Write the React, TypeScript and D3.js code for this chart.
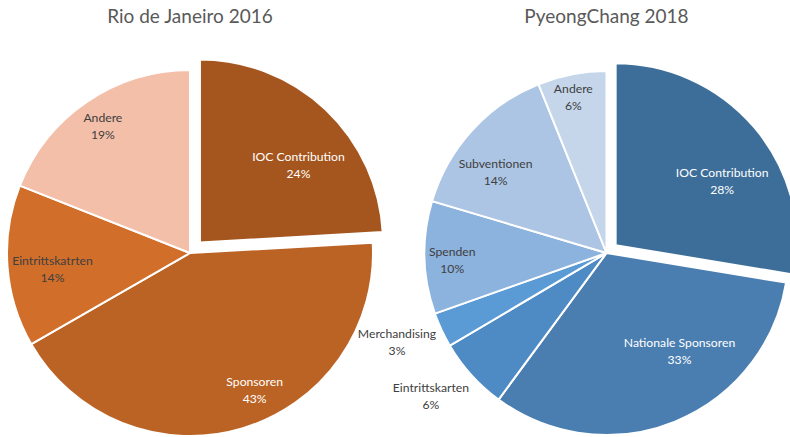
import { useEffect, useRef } from "react";
import * as d3 from "d3";

// Rio de Janeiro 2016 (shares in %)
const rioCategories = ["IOC Contribution", "Sponsoren", "Eintrittskatrten", "Andere"];
const rioValues = [24.1, 42.6, 14.3, 19];

// PyeongChang 2018 (shares in %)
const pcCategories = [
  "IOC Contribution",
  "Nationale Sponsoren",
  "Eintrittskarten",
  "Merchandising",
  "Spenden",
  "Subventionen",
  "Andere",
];
const pcValues = [27.6, 32.5, 6.4, 3.1, 10, 14.3, 6.1];

const rioColors = ["#A5561E", "#BB6324", "#D06E2A", "#F4BFA9"];
const pcColors = ["#3D6E99", "#4A7EB1", "#4E8AC3", "#5A9AD5", "#8CB2DE", "#ADC5E4", "#C5D6EB"];

const W = 790;
const H = 437;
const FONT = "Lato, 'Open Sans', sans-serif";

function drawPie(g, opts) {
  const { title, cats, vals, colors, cx, cy, r, explode, labelR, labelShift, lightText } = opts;
  const pie = d3.pie().sort(null).value((d) => d)(vals);
  const arc = d3.arc().innerRadius(0).outerRadius(r);
  const total = d3.sum(vals);

  g.append("text")
    .attr("x", cx)
    .attr("y", 23)
    .attr("text-anchor", "middle")
    .attr("fill", "#595959")
    .style("font-family", FONT)
    .style("font-size", "19px")
    .text(title);

  pie.forEach((p, i) => {
    const mid = (p.startAngle + p.endAngle) / 2;
    const off = i === 0 ? explode : 0;
    const ox = cx + off * Math.sin(mid);
    const oy = cy - off * Math.cos(mid);

    g.append("path")
      .attr("d", arc(p))
      .attr("transform", `translate(${ox},${oy})`)
      .attr("fill", colors[i])
      .attr("stroke", "#fff")
      .attr("stroke-width", 2)
      .attr("stroke-linejoin", "round");

    // label position (Excel best-fit, approximated)
    const a = mid + (labelShift[i] * Math.PI) / 180;
    const lx = ox + labelR[i] * r * Math.sin(a);
    const ly = oy - labelR[i] * r * Math.cos(a);
    const fill = lightText[i] ? "#fff" : "#404040";
    const pct = Math.round((vals[i] / total) * 100) + "%";

    const txt = g.append("text")
      .attr("text-anchor", "middle")
      .attr("fill", fill)
      .style("font-family", FONT)
      .style("font-size", "12.2px");
    txt.append("tspan").attr("x", lx).attr("y", ly - 8.5).text(cats[i]);
    txt.append("tspan").attr("x", lx).attr("y", ly + 8.5).text(pct);
  });
}

export default function App() {
  const ref = useRef(null);

  useEffect(() => {
    const svg = d3.select(ref.current);
    svg.selectAll("*").remove(); // Clear before redraw

    svg.append("rect").attr("width", W).attr("height", H).attr("fill", "#fff");

    drawPie(svg.append("g"), {
      title: "Rio de Janeiro 2016",
      cats: rioCategories,
      vals: rioValues,
      colors: rioColors,
      cx: 190,
      cy: 253,
      r: 183,
      explode: 14.5,
      labelR: [0.67, 0.85, 0.76, 0.82],
      labelShift: [10.1, -8.0, -4.4, -1.3],
      lightText: [true, true, false, false],
    });

    drawPie(svg.append("g"), {
      title: "PyeongChang 2018",
      cats: pcCategories,
      vals: pcValues,
      colors: pcColors,
      cx: 606.5,
      cy: 253,
      r: 182,
      explode: 12,
      labelR: [0.67, 0.69, 1.26, 1.26, 0.85, 0.74, 0.85],
      labelShift: [11.2, -13.4, 2.1, 1.0, -3.0, -7.7, -1.4],
      lightText: [true, true, false, false, false, false, false],
    });
  }, []);

  return (
    <svg
      ref={ref}
      width={W}
      height={H}
      style={{ position: "absolute", left: 0, top: 0, display: "block" }}
    />
  );
}
